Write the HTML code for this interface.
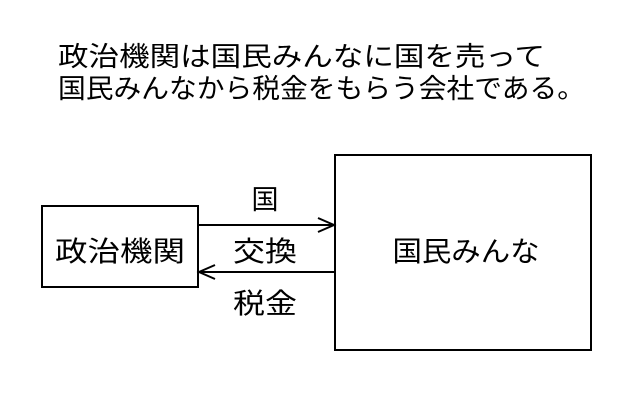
<!DOCTYPE html>
<html><head><meta charset="utf-8"><style>html,body{margin:0;padding:0;background:#fff}svg{display:block}</style></head>
<body>
<svg width="640" height="418" xmlns="http://www.w3.org/2000/svg" font-family="'Liberation Sans','Noto Sans CJK JP',sans-serif" fill="#000">
<text x="58" y="66" font-size="27" textLength="487" lengthAdjust="spacingAndGlyphs">政治機関は国民みんなに国を売って</text>
<text x="58" y="98" font-size="27" textLength="527" lengthAdjust="spacingAndGlyphs">国民みんなから税金をもらう会社である。</text>
<rect x="42" y="206" width="156" height="81" fill="none" stroke="#000" stroke-width="2"/>
<text x="120" y="261" font-size="28" text-anchor="middle" textLength="130" lengthAdjust="spacingAndGlyphs">政治機関</text>
<rect x="335" y="155" width="256" height="195" fill="none" stroke="#000" stroke-width="2"/>
<text x="466" y="261" font-size="28" text-anchor="middle" textLength="147" lengthAdjust="spacingAndGlyphs">国民みんな</text>
<line x1="198" y1="225" x2="334" y2="225" stroke="#000" stroke-width="2"/>
<polyline points="318,218 334,225 318,232" fill="none" stroke="#000" stroke-width="2"/>
<line x1="199" y1="272" x2="335" y2="272" stroke="#000" stroke-width="2"/>
<polyline points="215,265 199,272 215,279" fill="none" stroke="#000" stroke-width="2"/>
<text x="265" y="209" font-size="27" text-anchor="middle">国</text>
<text x="265" y="261" font-size="28" text-anchor="middle" textLength="64" lengthAdjust="spacingAndGlyphs">交換</text>
<text x="265" y="313" font-size="28" text-anchor="middle" textLength="64" lengthAdjust="spacingAndGlyphs">税金</text>
</svg>
</body></html>
